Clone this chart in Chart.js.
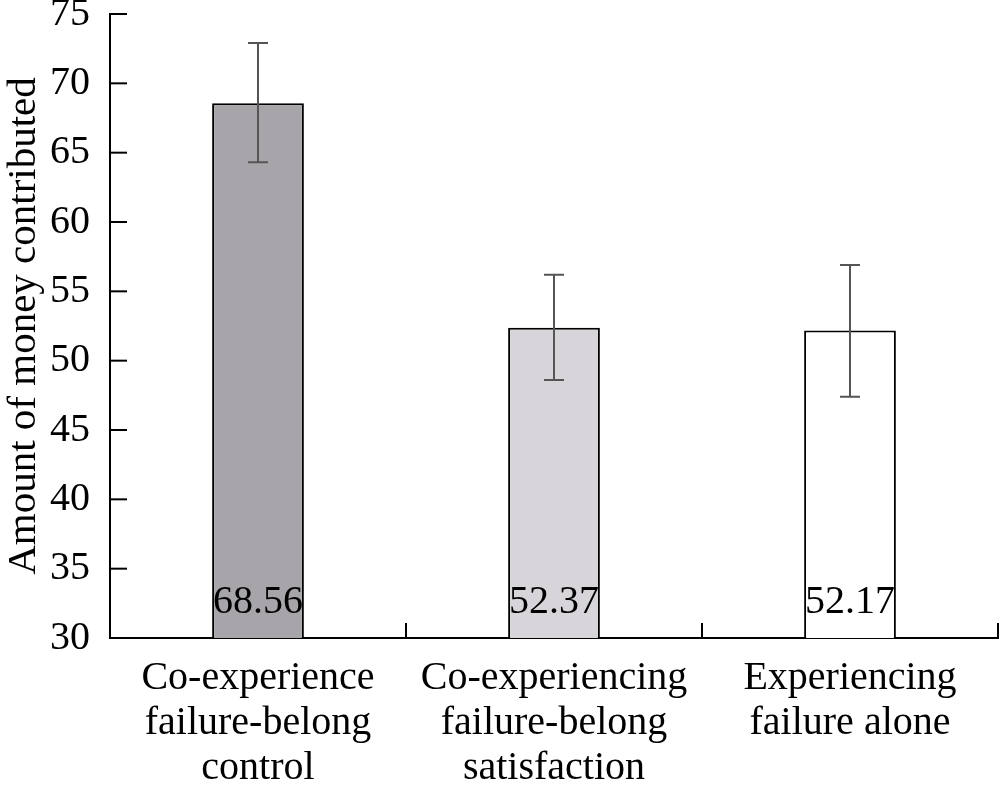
<!DOCTYPE html>
<html>
<head>
<meta charset="utf-8">
<script src="https://cdn.jsdelivr.net/npm/chart.js@4.4.0/dist/chart.umd.min.js"></script>
<style>
  html, body { margin: 0; padding: 0; background: #fff; }
  #wrap { width: 1000px; height: 788px; }
</style>
</head>
<body>
<div id="wrap"><canvas id="chart"></canvas></div>
<script>
// data
const categories = [
  ['Co-experience', 'failure-belong', 'control'],
  ['Co-experiencing', 'failure-belong', 'satisfaction'],
  ['Experiencing', 'failure alone']
];
const means = [68.56, 52.37, 52.17];
const errHigh = [72.9, 56.2, 56.9];
const errLow = [64.3, 48.6, 47.4];
const yTicks = [30, 35, 40, 45, 50, 55, 60, 65, 70, 75];

const fills = ['#a7a5aa', '#d7d5d9', '#ffffff'];

// inward tick marks, error bars and value labels
const extras = {
  id: 'extras',
  afterDatasetsDraw(chart) {
    const ctx = chart.ctx;
    const x = chart.scales.x, y = chart.scales.y;
    const area = chart.chartArea;
    ctx.save();

    // error bars
    ctx.strokeStyle = '#555555';
    ctx.lineWidth = 2;
    means.forEach((m, i) => {
      const cx = x.getPixelForValue(i);
      const top = y.getPixelForValue(errHigh[i]);
      const bot = y.getPixelForValue(errLow[i]);
      ctx.beginPath();
      ctx.moveTo(cx, top); ctx.lineTo(cx, bot);
      ctx.moveTo(cx - 10, top); ctx.lineTo(cx + 10, top);
      ctx.moveTo(cx - 10, bot); ctx.lineTo(cx + 10, bot);
      ctx.stroke();
    });

    // value labels near the base of each bar
    ctx.fillStyle = '#000';
    ctx.font = '40px "Liberation Serif"';
    ctx.textAlign = 'center';
    ctx.textBaseline = 'alphabetic';
    means.forEach((m, i) => {
      ctx.fillText(m.toFixed(2), x.getPixelForValue(i), area.bottom - 25);
    });

    // y ticks pointing inward
    ctx.strokeStyle = '#000';
    ctx.lineWidth = 2;
    yTicks.forEach(v => {
      const py = y.getPixelForValue(v);
      ctx.beginPath();
      ctx.moveTo(area.left, py); ctx.lineTo(area.left + 17, py);
      ctx.stroke();
    });
    // x ticks at category boundaries
    const n = categories.length;
    for (let i = 1; i <= n; i++) {
      const px = area.left + (area.right - area.left) * i / n;
      ctx.beginPath();
      ctx.moveTo(px, area.bottom); ctx.lineTo(px, area.bottom - 15);
      ctx.stroke();
    }
    ctx.restore();
  }
};

new Chart(document.getElementById('chart'), {
  type: 'bar',
  data: {
    labels: categories,
    datasets: [{
      data: means,
      backgroundColor: fills,
      borderColor: '#000',
      borderWidth: 2,
      borderSkipped: false,
      categoryPercentage: 1,
      barPercentage: 0.31
    }]
  },
  options: {
    responsive: true,
    maintainAspectRatio: false,
    animation: false,
    layout: { padding: { top: 14, right: 2, left: 0, bottom: 0 } },
    plugins: { legend: { display: false }, tooltip: { enabled: false } },
    scales: {
      x: {
        grid: { display: false },
        border: { color: '#000', width: 2 },
        ticks: {
          color: '#000',
          font: { family: 'Liberation Serif', size: 40, lineHeight: 1.12 },
          padding: 10,
          maxRotation: 0,
          autoSkip: false
        },
        afterFit(scale) { scale.height = 150; scale.paddingLeft = 0; scale.paddingRight = 0; }
      },
      y: {
        min: 30, max: 75,
        grid: { display: false },
        border: { color: '#000', width: 2 },
        ticks: {
          stepSize: 5,
          color: '#000',
          font: { family: 'Liberation Serif', size: 40 },
          padding: 12
        },
        title: {
          display: true,
          text: 'Amount of money contributed',
          color: '#000',
          font: { family: 'Liberation Serif', size: 41 },
          padding: { top: 0, bottom: 2 }
        },
        afterFit(scale) { scale.width = 110; scale.paddingTop = 0; scale.paddingBottom = 0; }
      }
    }
  },
  plugins: [extras]
});
</script>
</body>
</html>
